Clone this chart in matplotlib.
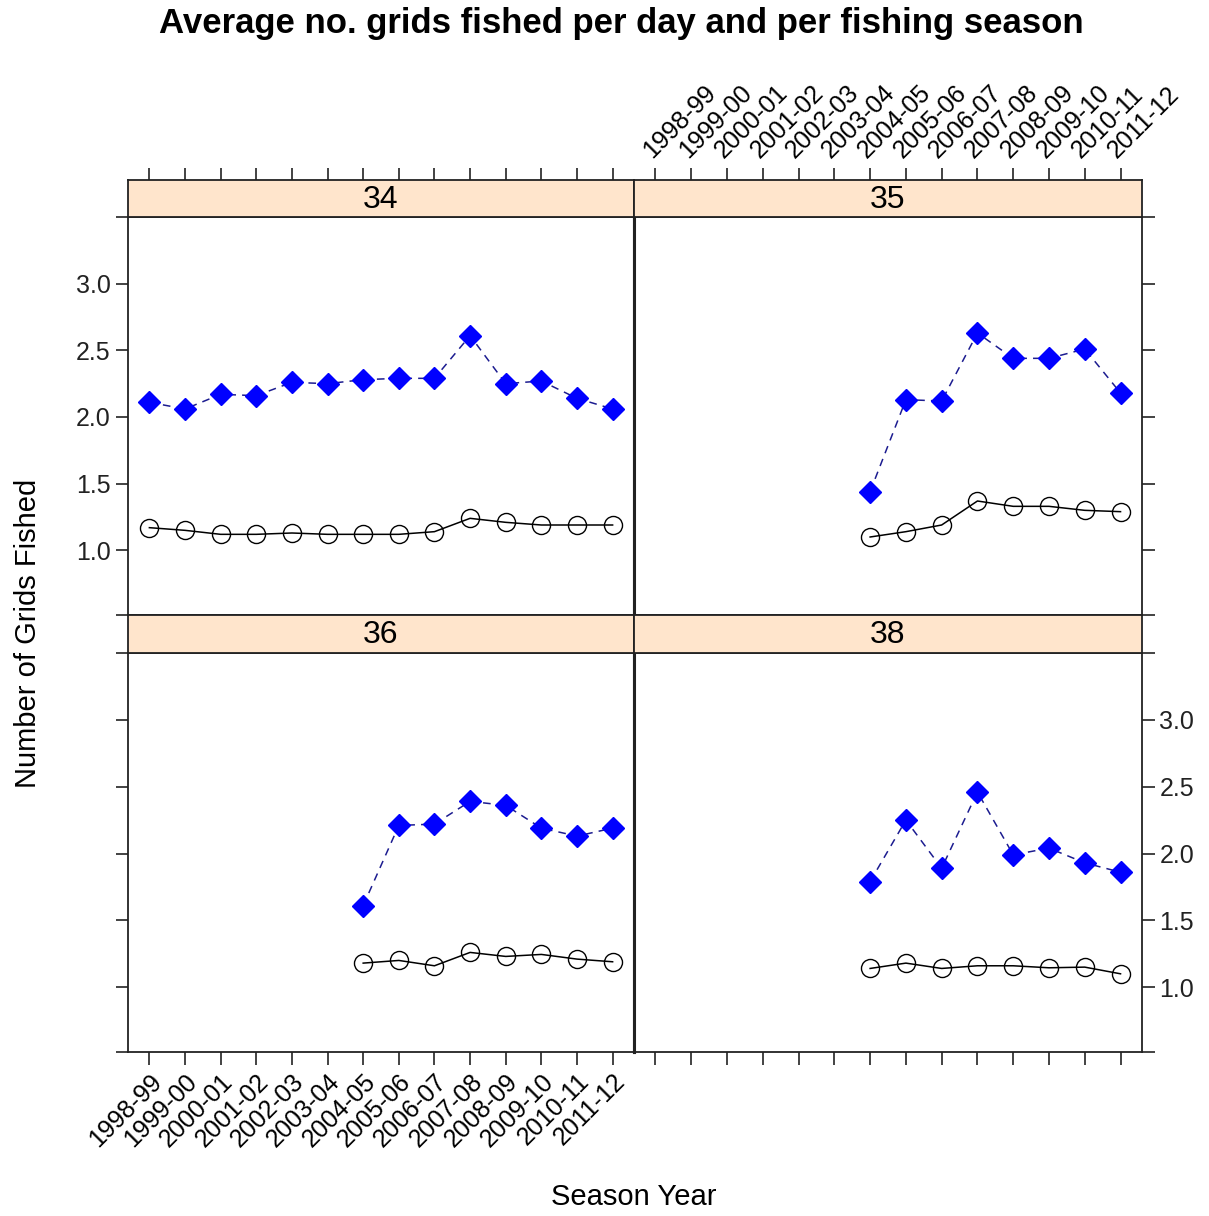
import matplotlib
matplotlib.use("Agg")
import matplotlib.pyplot as plt

plt.rcParams['font.family'] = ['Liberation Sans', 'DejaVu Sans']

seasons = ['1998-99', '1999-00', '2000-01', '2001-02', '2002-03', '2003-04', '2004-05',
           '2005-06', '2006-07', '2007-08', '2008-09', '2009-10', '2010-11', '2011-12']

# panel 34 covers all seasons, the others start at 2004-05
blue_34 = [2.11, 2.06, 2.17, 2.16, 2.26, 2.25, 2.28, 2.29, 2.29, 2.61, 2.25, 2.27, 2.14, 2.06]
black_34 = [1.17, 1.15, 1.12, 1.12, 1.13, 1.12, 1.12, 1.12, 1.14, 1.24, 1.21, 1.19, 1.19, 1.19]

blue_35 = [1.44, 2.13, 2.12, 2.63, 2.44, 2.44, 2.51, 2.18]
black_35 = [1.10, 1.14, 1.19, 1.37, 1.33, 1.33, 1.30, 1.29]

blue_36 = [1.61, 2.21, 2.22, 2.39, 2.36, 2.19, 2.13, 2.19]
black_36 = [1.18, 1.20, 1.16, 1.26, 1.23, 1.245, 1.21, 1.19]

blue_38 = [1.79, 2.25, 1.89, 2.46, 1.99, 2.04, 1.93, 1.86]
black_38 = [1.14, 1.18, 1.14, 1.16, 1.16, 1.145, 1.15, 1.10]

yticks = [1.0, 1.5, 2.0, 2.5, 3.0]
ylo, yhi = 0.515, 3.50
strip_col = '#FFE5CC'
edge = '#222222'

W, H = 1209, 1216
fig = plt.figure(figsize=(W / 100, H / 100), dpi=100)


def box(x0, y0, x1, y1):
    # pixel box -> figure fractions
    return [x0 / W, 1 - y1 / H, (x1 - x0) / W, (y1 - y0) / H]


def panel(rect, srect, name, blue, black, col, row):
    ax = fig.add_axes(box(*rect))
    st = fig.add_axes(box(*srect), sharex=ax)
    n = len(blue)
    x = list(range(len(seasons) - n, len(seasons)))
    ax.plot(x, black, '-', color='black', lw=1.1, marker='o', ms=13,
            mfc='none', mec='black', mew=1.0)
    ax.plot(x, blue, '--', color='#1c1c90', lw=1.1, dashes=(5, 4), marker='D', ms=11,
            mfc='#0000ff', mec='#0000ff')
    ax.set_xlim(-0.6, len(seasons) - 0.4)
    ax.set_ylim(ylo, yhi)

    for a in (ax, st):
        for s in a.spines.values():
            s.set_color(edge)
            s.set_linewidth(1.3)
    st.set_facecolor(strip_col)
    st.set_ylim(0, 1)
    st.set_yticks([])
    st.text(0.5, 0.47, name, transform=st.transAxes, ha='center', va='center', fontsize=23)

    # y axis: alternating sides like lattice
    ypos = [ylo] + yticks + [yhi]
    ylab = [''] + ['%.1f' % v for v in yticks] + ['']
    ax.set_yticks(ypos)
    ax.tick_params(axis='y', direction='out', length=9, width=1.2, color=edge,
                   labelsize=18, labelcolor='#222222')
    if col == 0:
        ax.tick_params(axis='y', left=True, right=False, labelleft=(row == 0), labelright=False)
        ax.spines['right'].set_linewidth(2.2)
    else:
        ax.tick_params(axis='y', left=False, right=True, labelleft=False, labelright=(row == 1))
        ax.spines['left'].set_linewidth(2.2)
    ax.set_yticklabels(ylab)

    # x axis: bottom row below the panel, top row above the strip
    ax.set_xticks(range(len(seasons)))
    if row == 1:
        ax.tick_params(axis='x', direction='out', length=9, width=1.2, color=edge,
                       bottom=True, top=False, labelbottom=(col == 0), labelsize=18)
        if col == 0:
            ax.set_xticklabels(seasons, rotation=45, ha='right', va='top', rotation_mode='anchor')
        st.tick_params(axis='x', bottom=False, top=False, labelbottom=False)
    else:
        ax.tick_params(axis='x', bottom=False, top=False, labelbottom=False)
        st.tick_params(axis='x', direction='out', length=9, width=1.2, color=edge,
                       bottom=False, top=True, labelbottom=False, labeltop=(col == 1),
                       labelsize=18)
        if col == 1:
            st.set_xticklabels(seasons, rotation=45, ha='left', va='bottom', rotation_mode='anchor')
    return ax


panel((128, 217, 634, 615), (128, 180, 634, 217), '34', blue_34, black_34, 0, 0)
panel((634, 217, 1142, 615), (634, 180, 1142, 217), '35', blue_35, black_35, 1, 0)
panel((128, 653, 634, 1052), (128, 615, 634, 653), '36', blue_36, black_36, 0, 1)
panel((634, 653, 1142, 1052), (634, 615, 1142, 653), '38', blue_38, black_38, 1, 1)

fig.text(0.514, 0.981, 'Average no. grids fished per day and per fishing season',
         ha='center', va='center', fontsize=25, fontweight='bold')
fig.text(0.524, 0.016, 'Season Year', ha='center', va='center', fontsize=21)
fig.text(0.023, 0.479, 'Number of Grids Fished', ha='center', va='center',
         rotation=90, fontsize=21)

fig.savefig('out.png', dpi=100)
